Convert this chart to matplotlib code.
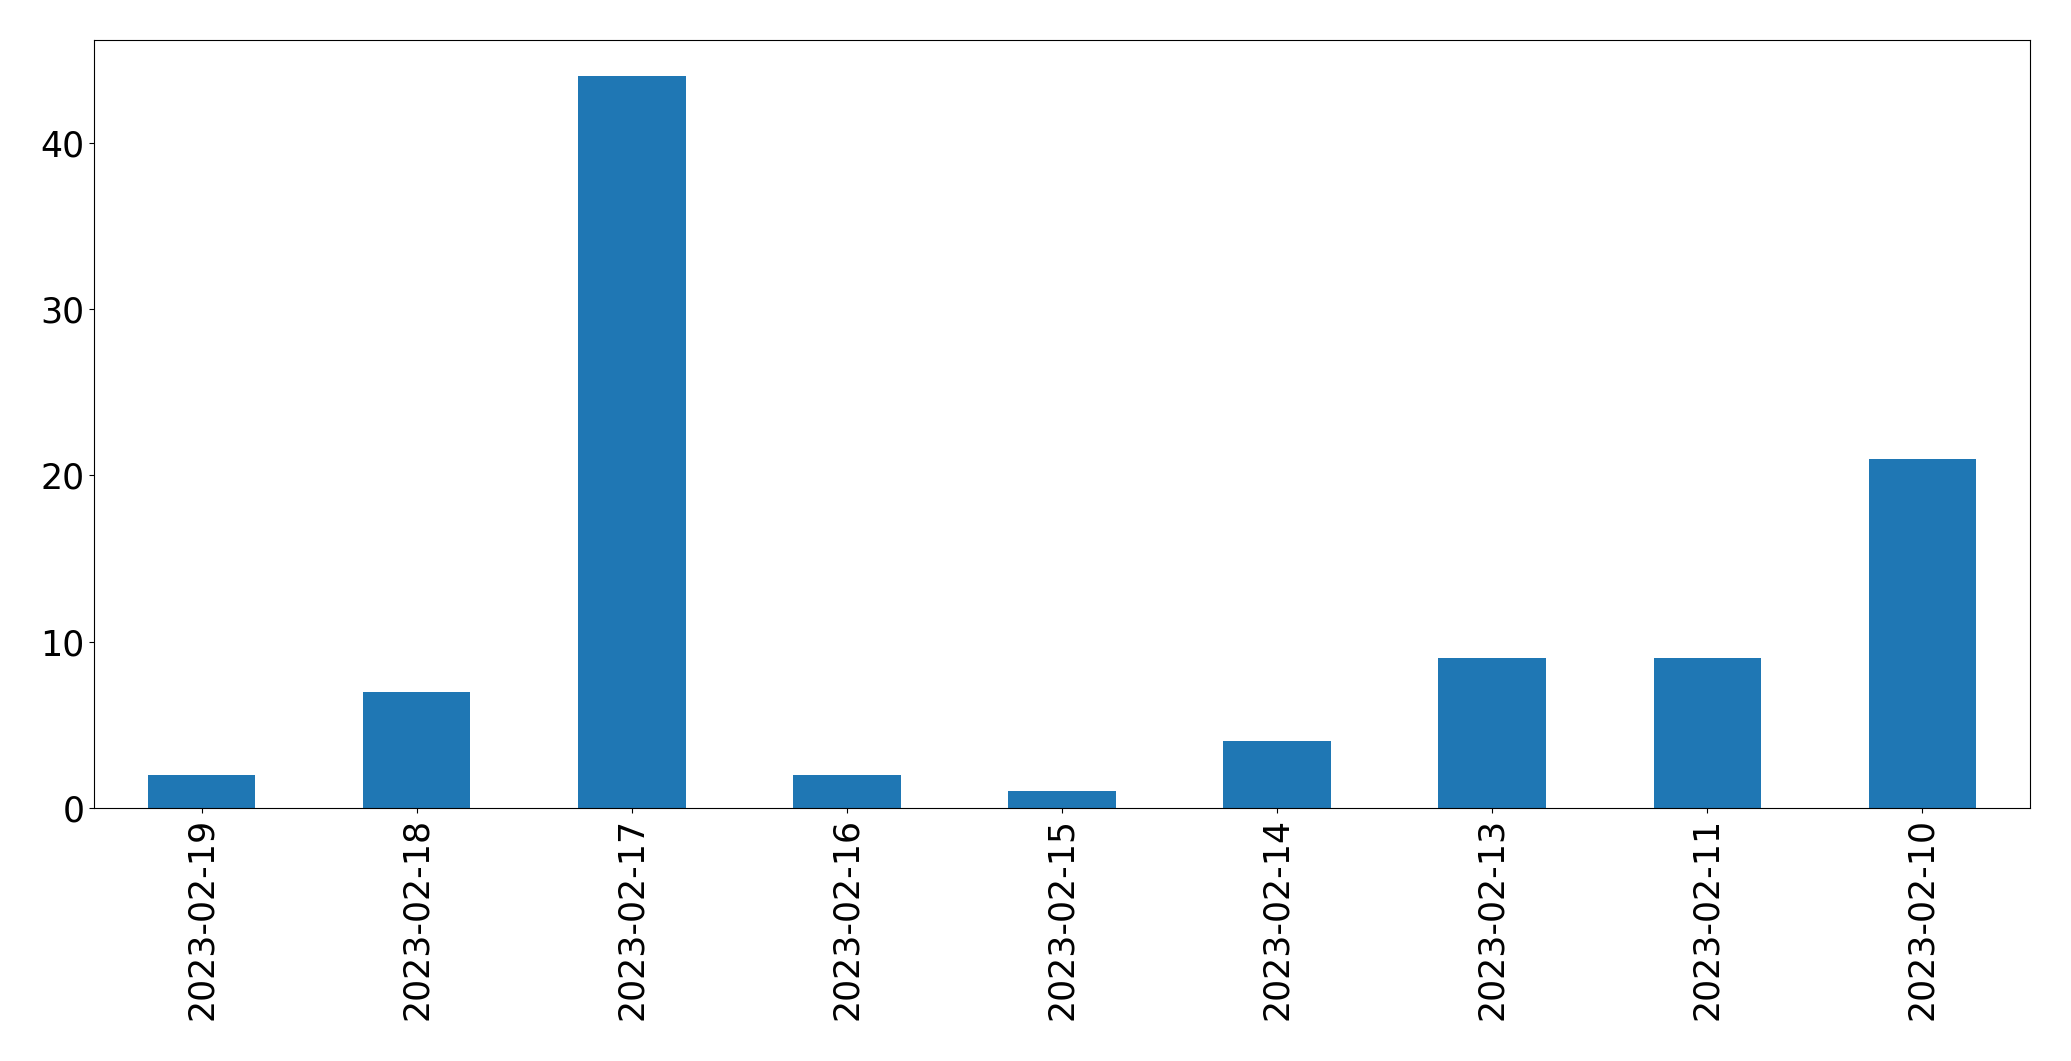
import matplotlib
matplotlib.use("Agg")
import matplotlib.pyplot as plt
import pandas as pd

dates = ["2023-02-19", "2023-02-18", "2023-02-17", "2023-02-16", "2023-02-15",
         "2023-02-14", "2023-02-13", "2023-02-11", "2023-02-10"]
counts = [2, 7, 44, 2, 1, 4, 9, 9, 21]

s = pd.Series(counts, index=dates)

fig = plt.figure(figsize=(20.71, 10.61), dpi=100)
ax = fig.add_axes([94 / 2071, 1 - 808 / 1061, (2030 - 94) / 2071, (808 - 39.6) / 1061])
s.plot(kind="bar", ax=ax, color="#1f77b4", rot=90)
ax.tick_params(axis="both", labelsize=25)
fig.savefig("out.png", dpi=100)
